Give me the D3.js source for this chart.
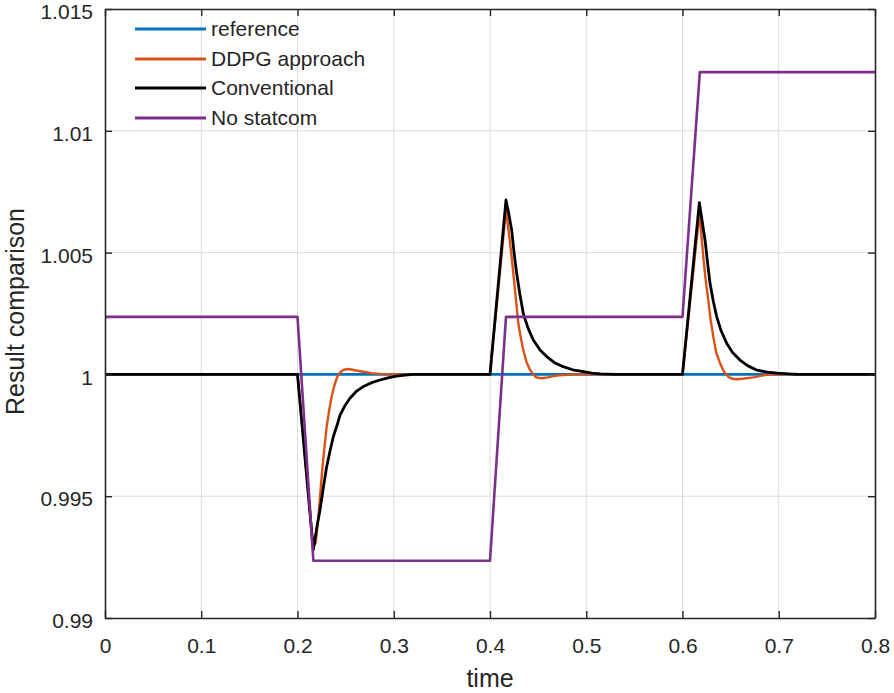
<!DOCTYPE html>
<html>
<head>
<meta charset="utf-8">
<script src="https://cdn.jsdelivr.net/npm/d3@7/dist/d3.min.js"></script>
<style>
  html, body { margin: 0; padding: 0; background: #fff; }
  svg { display: block; font-family: "Liberation Sans", Arial, sans-serif; }
</style>
</head>
<body>
<svg id="chart" width="894" height="693"></svg>
<script>
// ---------- DATA ----------
const seriesNames = ["reference", "DDPG approach", "Conventional", "No statcom"];
const seriesColors = ["#0072BD", "#D95319", "#000000", "#7E2F8E"];

const refT = [0, 0.8];
const refV = [1, 1];

const ddpgT = [0, 0.2, 0.2164, 0.2190, 0.2220, 0.2251, 0.2277, 0.2303, 0.2330, 0.2355, 0.2380, 0.2407, 0.2440, 0.2476, 0.2510, 0.2545, 0.2610, 0.2684, 0.2770, 0.286, 0.3,
  0.4, 0.4166, 0.4190, 0.4225, 0.426, 0.4294, 0.432, 0.4346, 0.438, 0.4416, 0.445, 0.4480, 0.4537, 0.460, 0.469, 0.485,
  0.6, 0.6175, 0.6195, 0.6216, 0.624, 0.6268, 0.629, 0.632, 0.635, 0.639, 0.643, 0.6476, 0.652, 0.6563, 0.664, 0.6736, 0.682, 0.6915, 0.8];
const ddpgV = [1, 1, 0.9929, 0.9931, 0.9943, 0.9958, 0.9969, 0.99785, 0.99855, 0.99909, 0.9995, 0.99984, 1.00008, 1.00018, 1.00022, 1.00021, 1.00016, 1.00011, 1.00005, 1.00002, 1,
  1, 1.00675, 1.0060, 1.00483, 1.00346, 1.0021, 1.0015, 1.001, 1.0005, 1.00018, 1.0, 0.99988, 0.99984, 0.99988, 0.99995, 1,
  1, 1.0066, 1.0058, 1.00483, 1.0039, 1.00305, 1.0023, 1.00155, 1.0009, 1.00046, 1.00012, 0.9999, 0.99982, 0.9998, 0.99983, 0.99988, 0.99995, 1, 1];

const convT = [0, 0.2, 0.2164, 0.2200, 0.2234, 0.2270, 0.2303, 0.2340, 0.2372, 0.2410, 0.2442, 0.2490, 0.2545, 0.2610, 0.2684, 0.2770, 0.2857, 0.2950, 0.303, 0.312, 0.32,
  0.4, 0.4166, 0.4190, 0.4225, 0.4250, 0.4277, 0.4310, 0.4346, 0.4395, 0.445, 0.452, 0.4589, 0.467, 0.476, 0.486, 0.4969, 0.506, 0.515, 0.53,
  0.6, 0.6175, 0.6200, 0.6234, 0.626, 0.6286, 0.632, 0.6355, 0.640, 0.6459, 0.652, 0.6597, 0.668, 0.677, 0.688, 0.6985, 0.71, 0.72, 0.8];
const convV = [1, 1, 0.99279, 0.9937, 0.99443, 0.9954, 0.99621, 0.9969, 0.99744, 0.9979, 0.99833, 0.9987, 0.99902, 0.9993, 0.9995, 0.99966, 0.99977, 0.99987, 0.99993, 0.99997, 1,
  1, 1.00716, 1.0067, 1.00593, 1.0050, 1.00415, 1.0033, 1.0025, 1.0019, 1.00141, 1.001, 1.00073, 1.00048, 1.00032, 1.00019, 1.00011, 1.00005, 1.00002, 1,
  1, 1.00705, 1.0064, 1.00552, 1.0046, 1.00374, 1.003, 1.00237, 1.0018, 1.00128, 1.0009, 1.00059, 1.00035, 1.00018, 1.00009, 1.00005, 1.00002, 1, 1];

const noStatT = [0, 0.2, 0.2165, 0.4, 0.4166, 0.6, 0.618, 0.8];
const noStatV = [1.00236, 1.00236, 0.99235, 0.99235, 1.00236, 1.00236, 1.01241, 1.01241];

const xTicks = [0, 0.1, 0.2, 0.3, 0.4, 0.5, 0.6, 0.7, 0.8];
const xTickLabels = ["0", "0.1", "0.2", "0.3", "0.4", "0.5", "0.6", "0.7", "0.8"];
const yTicks = [0.99, 0.995, 1, 1.005, 1.01, 1.015];
const yTickLabels = ["0.99", "0.995", "1", "1.005", "1.01", "1.015"];

const xLabel = "time";
const yLabel = "Result comparison";

// ---------- LAYOUT ----------
const W = 894, H = 693;
const margin = { left: 105, right: 19, top: 9, bottom: 75 };
const iw = W - margin.left - margin.right;
const ih = H - margin.top - margin.bottom;
const axisColor = "#262626";

const svg = d3.select("#chart");
const g = svg.append("g").attr("transform", `translate(${margin.left},${margin.top})`);

const x = d3.scaleLinear().domain([0, 0.8]).range([0, iw]);
const y = d3.scaleLinear().domain([0.99, 1.015]).range([ih, 0]);

// grid
g.append("g").selectAll("line").data(xTicks.slice(1, -1)).join("line")
  .attr("x1", d => x(d)).attr("x2", d => x(d)).attr("y1", 0).attr("y2", ih)
  .attr("stroke", "#dcdcdc").attr("stroke-width", 1);
g.append("g").selectAll("line").data(yTicks.slice(1, -1)).join("line")
  .attr("y1", d => y(d)).attr("y2", d => y(d)).attr("x1", 0).attr("x2", iw)
  .attr("stroke", "#dcdcdc").attr("stroke-width", 1);

// lines
const data = [
  refT.map((t, i) => [t, refV[i]]),
  ddpgT.map((t, i) => [t, ddpgV[i]]),
  convT.map((t, i) => [t, convV[i]]),
  noStatT.map((t, i) => [t, noStatV[i]])
];
const widths = [2.6, 2.4, 2.8, 2.6];
const line = d3.line().x(d => x(d[0])).y(d => y(d[1]));
svg.append("defs").append("clipPath").attr("id", "clip")
  .append("rect").attr("x", 0).attr("y", 0).attr("width", iw).attr("height", ih);
const lg = g.append("g").attr("clip-path", "url(#clip)");
data.forEach((d, i) => {
  lg.append("path").datum(d).attr("d", line)
    .attr("fill", "none").attr("stroke", seriesColors[i]).attr("stroke-width", widths[i])
    .attr("stroke-linejoin", "round");
});

// axes
const tickLen = 7;
const xAxisB = d3.axisBottom(x).tickValues(xTicks).tickFormat((d, i) => xTickLabels[i]).tickSizeInner(-tickLen).tickSizeOuter(0).tickPadding(20);
const xAxisT = d3.axisTop(x).tickValues(xTicks).tickFormat("").tickSizeInner(-tickLen).tickSizeOuter(0);
const yAxisL = d3.axisLeft(y).tickValues(yTicks).tickFormat((d, i) => yTickLabels[i]).tickSizeInner(-tickLen).tickSizeOuter(0).tickPadding(12);
const yAxisR = d3.axisRight(y).tickValues(yTicks).tickFormat("").tickSizeInner(-tickLen).tickSizeOuter(0);

function style(sel) {
  sel.select(".domain").attr("stroke", axisColor).attr("stroke-width", 1.6);
  sel.selectAll(".tick line").attr("stroke", axisColor).attr("stroke-width", 1.4);
  sel.selectAll(".tick text").attr("fill", axisColor).style("font-size", "21px")
    .style("font-family", '"Liberation Sans", Arial, sans-serif');
}
g.append("g").attr("transform", `translate(0,${ih})`).call(xAxisB).call(style);
g.append("g").call(xAxisT).call(style);
const yl = g.append("g").call(yAxisL).call(style);
yl.selectAll(".tick text").attr("y", 3);
g.append("g").attr("transform", `translate(${iw},0)`).call(yAxisR).call(style);

// axis labels
svg.append("text").attr("x", margin.left + iw / 2).attr("y", 687)
  .attr("text-anchor", "middle").attr("fill", axisColor).style("font-size", "25px").text(xLabel);
svg.append("text").attr("transform", `translate(24,${margin.top + ih / 2 - 2}) rotate(-90)`)
  .attr("text-anchor", "middle").attr("fill", axisColor).style("font-size", "25px").text(yLabel);

// legend
const legY = [29, 59, 88, 118];
const leg = svg.append("g");
seriesNames.forEach((name, i) => {
  leg.append("line").attr("x1", 135).attr("x2", 206).attr("y1", legY[i]).attr("y2", legY[i])
    .attr("stroke", seriesColors[i]).attr("stroke-width", 2.8);
  leg.append("text").attr("x", 211).attr("y", legY[i]).attr("dy", "0.35em")
    .attr("fill", axisColor).style("font-size", "21px").text(name);
});
</script>
</body>
</html>
